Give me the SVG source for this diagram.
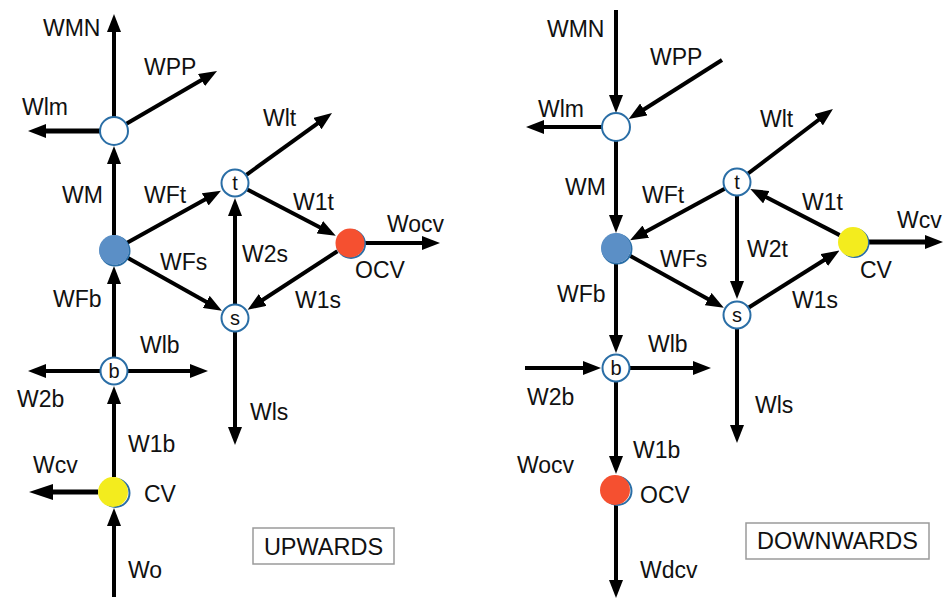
<svg xmlns="http://www.w3.org/2000/svg" width="945" height="599" viewBox="0 0 945 599">
  <style>
    .edge { stroke: #000; stroke-width: 4; fill: none; marker-end: url(#head); }
    .edge.big { marker-end: url(#headBig); }
    .lbl { font-family: "Liberation Sans", Arial, sans-serif; font-size: 23px; fill: #111; }
    .nlbl { font-family: "Liberation Sans", Arial, sans-serif; font-size: 20px; fill: #111; text-anchor: middle; }
    .ring { fill: #fff; stroke: #2a6ea6; stroke-width: 2; }
    .halo { fill: none; stroke: #2a6ea6; stroke-width: 2; }
    .box { fill: #fff; stroke: #9a9a9a; stroke-width: 1.5; }
    .boxtxt { font-family: "Liberation Sans", Arial, sans-serif; font-size: 23.5px; fill: #111; text-anchor: middle; }
  </style>
  <defs>
    <marker id="head" markerUnits="userSpaceOnUse" markerWidth="18" markerHeight="14" refX="8" refY="7" orient="auto" viewBox="0 0 18 14">
      <path d="M0,0 L18,7 L0,14 z" fill="#000"/>
    </marker>
    <marker id="headBig" markerUnits="userSpaceOnUse" markerWidth="24" markerHeight="16" refX="12" refY="8" orient="auto" viewBox="0 0 24 16">
      <path d="M0,0 L24,8 L0,16 z" fill="#000"/>
    </marker>
  </defs>
  <rect width="945" height="599" fill="#fff"/>

  <!-- connectors -->
  <g id="connectors">
    <!-- upward flow -->
    <line class="edge" x1="114" y1="117" x2="114" y2="24"/>
    <line class="edge" x1="126" y1="124" x2="208.4" y2="76"/>
    <line class="edge" x1="100" y1="131" x2="38" y2="131" style="stroke-width:5"/>
    <line class="edge" x1="114" y1="235" x2="114" y2="156"/>
    <line class="edge" x1="127.1" y1="242.7" x2="212.2" y2="195.5"/>
    <line class="edge" x1="246.4" y1="174.8" x2="323.9" y2="118.9"/>
    <line class="edge" x1="247.4" y1="189.5" x2="326.9" y2="231"/>
    <line class="edge" x1="364" y1="243" x2="430" y2="243"/>
    <line class="edge" x1="235" y1="304" x2="235" y2="208"/>
    <line class="edge" x1="127.1" y1="257.4" x2="213.2" y2="305.8"/>
    <line class="edge" x1="337.4" y1="251.2" x2="256" y2="304.3"/>
    <line class="edge" x1="114" y1="357" x2="114" y2="276"/>
    <line class="edge" x1="235" y1="332" x2="235" y2="435"/>
    <line class="edge" x1="128" y1="371" x2="198" y2="371"/>
    <line class="edge" x1="100" y1="371" x2="38" y2="371"/>
    <line class="edge" x1="114" y1="477" x2="114" y2="396"/>
    <line class="edge big" x1="98" y1="492" x2="41" y2="492" style="stroke-width:5"/>
    <line class="edge" x1="114" y1="597" x2="114" y2="518"/>

    <!-- downward flow -->
    <line class="edge" x1="616" y1="10" x2="616" y2="103"/>
    <line class="edge" x1="722" y1="60" x2="637.1" y2="113.7"/>
    <line class="edge" x1="602" y1="127" x2="536" y2="127"/>
    <line class="edge" x1="616" y1="141" x2="616" y2="223"/>
    <line class="edge" x1="724.7" y1="188.7" x2="638.8" y2="235.5"/>
    <line class="edge" x1="748.1" y1="173.5" x2="825" y2="115"/>
    <line class="edge" x1="839.7" y1="235.1" x2="759.2" y2="193.5"/>
    <line class="edge" x1="868" y1="242" x2="933" y2="242" style="stroke-width:5"/>
    <line class="edge" x1="737" y1="196" x2="737" y2="289"/>
    <line class="edge" x1="629.1" y1="255.3" x2="715.1" y2="302.9"/>
    <line class="edge" x1="748.8" y1="307.5" x2="831" y2="255.8"/>
    <line class="edge" x1="616" y1="263" x2="616" y2="343"/>
    <line class="edge" x1="525" y1="368" x2="591" y2="368"/>
    <line class="edge" x1="630" y1="368" x2="701" y2="368"/>
    <line class="edge" x1="737" y1="329" x2="737" y2="433"/>
    <line class="edge" x1="616" y1="382" x2="616" y2="464"/>
    <line class="edge" x1="616" y1="505" x2="616" y2="588"/>
  </g>

  <!-- upward nodes -->
  <g id="up-m"><circle class="ring" cx="114" cy="131" r="14"/></g>
  <g id="up-f"><circle class="halo" cx="115" cy="251" r="14.5"/><circle cx="114" cy="250" r="15" fill="#5b8fc6"/></g>
  <g id="up-t"><circle class="ring" cx="235" cy="183" r="13.5"/><text class="nlbl" x="235" y="190">t</text></g>
  <g id="up-s"><circle class="ring" cx="235" cy="318" r="13.5"/><text class="nlbl" x="235" y="325">s</text></g>
  <g id="up-ocv"><circle class="halo" cx="351" cy="244" r="14"/><circle cx="350" cy="243" r="14.5" fill="#f55030"/></g>
  <g id="up-b"><circle class="ring" cx="114" cy="371" r="13.5"/><text class="nlbl" x="114" y="378">b</text></g>
  <g id="up-cv"><circle class="halo" cx="115.5" cy="493" r="14"/><circle cx="113" cy="492" r="15" fill="#f3ec1e"/></g>

  <!-- downward nodes -->
  <g id="down-m"><circle class="ring" cx="616" cy="127" r="14"/></g>
  <g id="down-f"><circle class="halo" cx="617" cy="249" r="14.5"/><circle cx="616" cy="248" r="15" fill="#5b8fc6"/></g>
  <g id="down-t"><circle class="ring" cx="737" cy="182" r="13.5"/><text class="nlbl" x="737" y="189">t</text></g>
  <g id="down-s"><circle class="ring" cx="737" cy="315" r="13.5"/><text class="nlbl" x="737" y="322">s</text></g>
  <g id="down-cv"><circle class="halo" cx="854.5" cy="243" r="14"/><circle cx="853" cy="242" r="15" fill="#f3ec1e"/></g>
  <g id="down-b"><circle class="ring" cx="616" cy="368" r="13.5"/><text class="nlbl" x="616" y="375">b</text></g>
  <g id="down-ocv"><circle class="halo" cx="617.5" cy="491" r="14"/><circle cx="615" cy="490" r="15" fill="#f55030"/></g>

  <!-- upward labels -->
  <g id="up-labels">
    <text class="lbl" x="43" y="36">WMN</text>
    <text class="lbl" x="144" y="75">WPP</text>
    <text class="lbl" x="22" y="115">Wlm</text>
    <text class="lbl" x="62" y="203">WM</text>
    <text class="lbl" x="144" y="203">WFt</text>
    <text class="lbl" x="263" y="126">Wlt</text>
    <text class="lbl" x="293" y="210">W1t</text>
    <text class="lbl" x="387" y="232">Wocv</text>
    <text class="lbl" x="355" y="278">OCV</text>
    <text class="lbl" x="242" y="262">W2s</text>
    <text class="lbl" x="160" y="270">WFs</text>
    <text class="lbl" x="53" y="307">WFb</text>
    <text class="lbl" x="295" y="308">W1s</text>
    <text class="lbl" x="140" y="353">Wlb</text>
    <text class="lbl" x="17" y="407">W2b</text>
    <text class="lbl" x="250" y="420">Wls</text>
    <text class="lbl" x="128" y="452">W1b</text>
    <text class="lbl" x="33" y="473">Wcv</text>
    <text class="lbl" x="144" y="502">CV</text>
    <text class="lbl" x="128" y="578">Wo</text>
  </g>

  <!-- downward labels -->
  <g id="down-labels">
    <text class="lbl" x="547" y="37">WMN</text>
    <text class="lbl" x="650" y="65">WPP</text>
    <text class="lbl" x="538" y="117">Wlm</text>
    <text class="lbl" x="565" y="195">WM</text>
    <text class="lbl" x="642" y="203">WFt</text>
    <text class="lbl" x="760" y="127">Wlt</text>
    <text class="lbl" x="802" y="210">W1t</text>
    <text class="lbl" x="897" y="228">Wcv</text>
    <text class="lbl" x="860" y="278">CV</text>
    <text class="lbl" x="747" y="257">W2t</text>
    <text class="lbl" x="660" y="267">WFs</text>
    <text class="lbl" x="792" y="308">W1s</text>
    <text class="lbl" x="557" y="302">WFb</text>
    <text class="lbl" x="648" y="352">Wlb</text>
    <text class="lbl" x="527" y="405">W2b</text>
    <text class="lbl" x="755" y="413">Wls</text>
    <text class="lbl" x="633" y="458">W1b</text>
    <text class="lbl" x="517" y="473">Wocv</text>
    <text class="lbl" x="640" y="503">OCV</text>
    <text class="lbl" x="640" y="578">Wdcv</text>
  </g>

  <!-- mode captions -->
  <g id="up-caption">
    <rect class="box" x="253" y="528" width="141" height="36"/>
    <text class="boxtxt" x="323.5" y="555">UPWARDS</text>
  </g>
  <g id="down-caption">
    <rect class="box" x="746" y="523" width="183" height="36"/>
    <text class="boxtxt" x="837.5" y="549">DOWNWARDS</text>
  </g>
</svg>
